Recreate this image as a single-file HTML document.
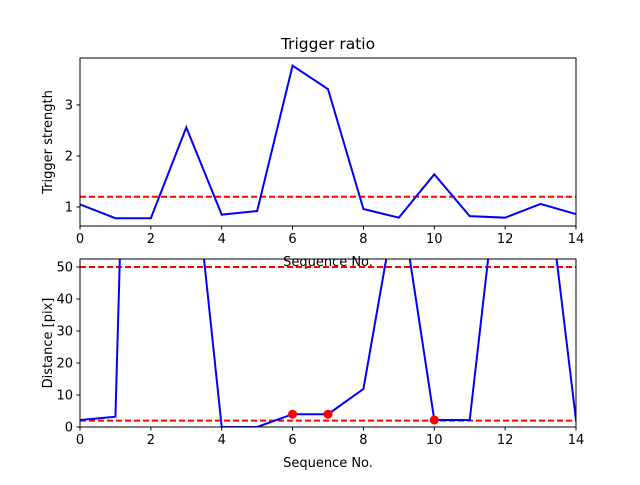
<!DOCTYPE html>
<html><head><meta charset="utf-8"><style>
body{margin:0;background:#fff;}
svg text{font-family:"DejaVu Sans","Liberation Sans",sans-serif;font-size:13px;fill:#000;}
</style></head><body>
<svg width="640" height="480">
<defs>
<clipPath id="c1"><rect x="80" y="58" width="496" height="168"/></clipPath>
<clipPath id="c2"><rect x="80" y="259" width="496" height="168"/></clipPath>
</defs>
<rect width="640" height="480" fill="#fff"/>
<text x="328" y="49" text-anchor="middle" style="font-size:15.5px">Trigger ratio</text>
<g id="top"></g>
<g id="bot"></g>
</svg>
<script>
const seq = [0,1,2,3,4,5,6,7,8,9,10,11,12,13,14];
const strength = [1.05,0.78,0.78,2.56,0.85,0.92,3.77,3.31,0.96,0.79,1.64,0.82,0.79,1.06,0.86];
const strengthThreshold = 1.2;
const distance = [2.2,3.2,400,105,0,0,4,4,11.9,75,2.2,2.2,99,94,2.2];
const distThresholds = [50,2];
const markedIdx = [6,7,10];
const xTicks = [0,2,4,6,8,10,12,14];
const topTicks = [1,2,3];
const botTicks = [0,10,20,30,40,50];
const NS='http://www.w3.org/2000/svg';
function mk(p,t,a){const e=document.createElementNS(NS,t);for(const k in a)e.setAttribute(k,a[k]);p.appendChild(e);return e;}
function panel(g,top,bottom,ymin,ymax,yt,ylabel,clip){
  const L=80,R=576;
  const sx=v=>L+(v-0)/(14-0)*(R-L);
  const sy=v=>bottom-(v-ymin)/(ymax-ymin)*(bottom-top);
  return {sx,sy,L,R,draw(ys,lines,dots){
    lines.forEach((t,i)=>{const l=mk(g,'line',{x1:L,x2:R,y1:sy(t),y2:sy(t),stroke:'#f00','stroke-width':2,'stroke-dasharray':'6,3','clip-path':'url(#'+clip+')'});
      
      });
    const pl=mk(g,'polyline',{points:seq.map((x,i)=>sx(x)+','+sy(ys[i])).join(' '),fill:'none',stroke:'#00f','stroke-width':2,'clip-path':'url(#'+clip+')'});
    
    
    dots.forEach(i=>{const c=mk(g,'circle',{cx:sx(seq[i]),cy:sy(ys[i]),r:4.5,fill:'#f00'});
      
      });
    const fr=mk(g,'rect',{x:L,y:top,width:R-L,height:bottom-top,fill:'none',stroke:'#000','stroke-width':1});
    
    
    xTicks.forEach(v=>{mk(g,'line',{x1:sx(v),x2:sx(v),y1:bottom,y2:bottom+3.5,stroke:'#000'});
      const t=mk(g,'text',{x:sx(v),y:bottom+17,'text-anchor':'middle'});t.textContent=v;
      
      });
    yt.forEach(v=>{mk(g,'line',{x1:L-3.5,x2:L,y1:sy(v),y2:sy(v),stroke:'#000'});
      const t=mk(g,'text',{x:L-7,y:sy(v)+4.5,'text-anchor':'end'});t.textContent=v;
      
      });
    const xl=mk(g,'text',{x:(L+R)/2,y:bottom+40,'text-anchor':'middle'});xl.textContent='Sequence No.';
    
    
    const yl=mk(g,'text',{x:0,y:0,'text-anchor':'middle',transform:'translate(52,'+(top+bottom)/2+') rotate(-90)'});yl.textContent=ylabel;
    
    
  }};
}
const p1=panel(document.getElementById('top'),58,226,0.627,3.92,topTicks,'Trigger strength','c1');
p1.draw(strength,[strengthThreshold],[]);
const p2=panel(document.getElementById('bot'),259,427,0,52.5,botTicks,'Distance [pix]','c2');
p2.draw(distance,distThresholds,markedIdx);
</script>
</body></html>
